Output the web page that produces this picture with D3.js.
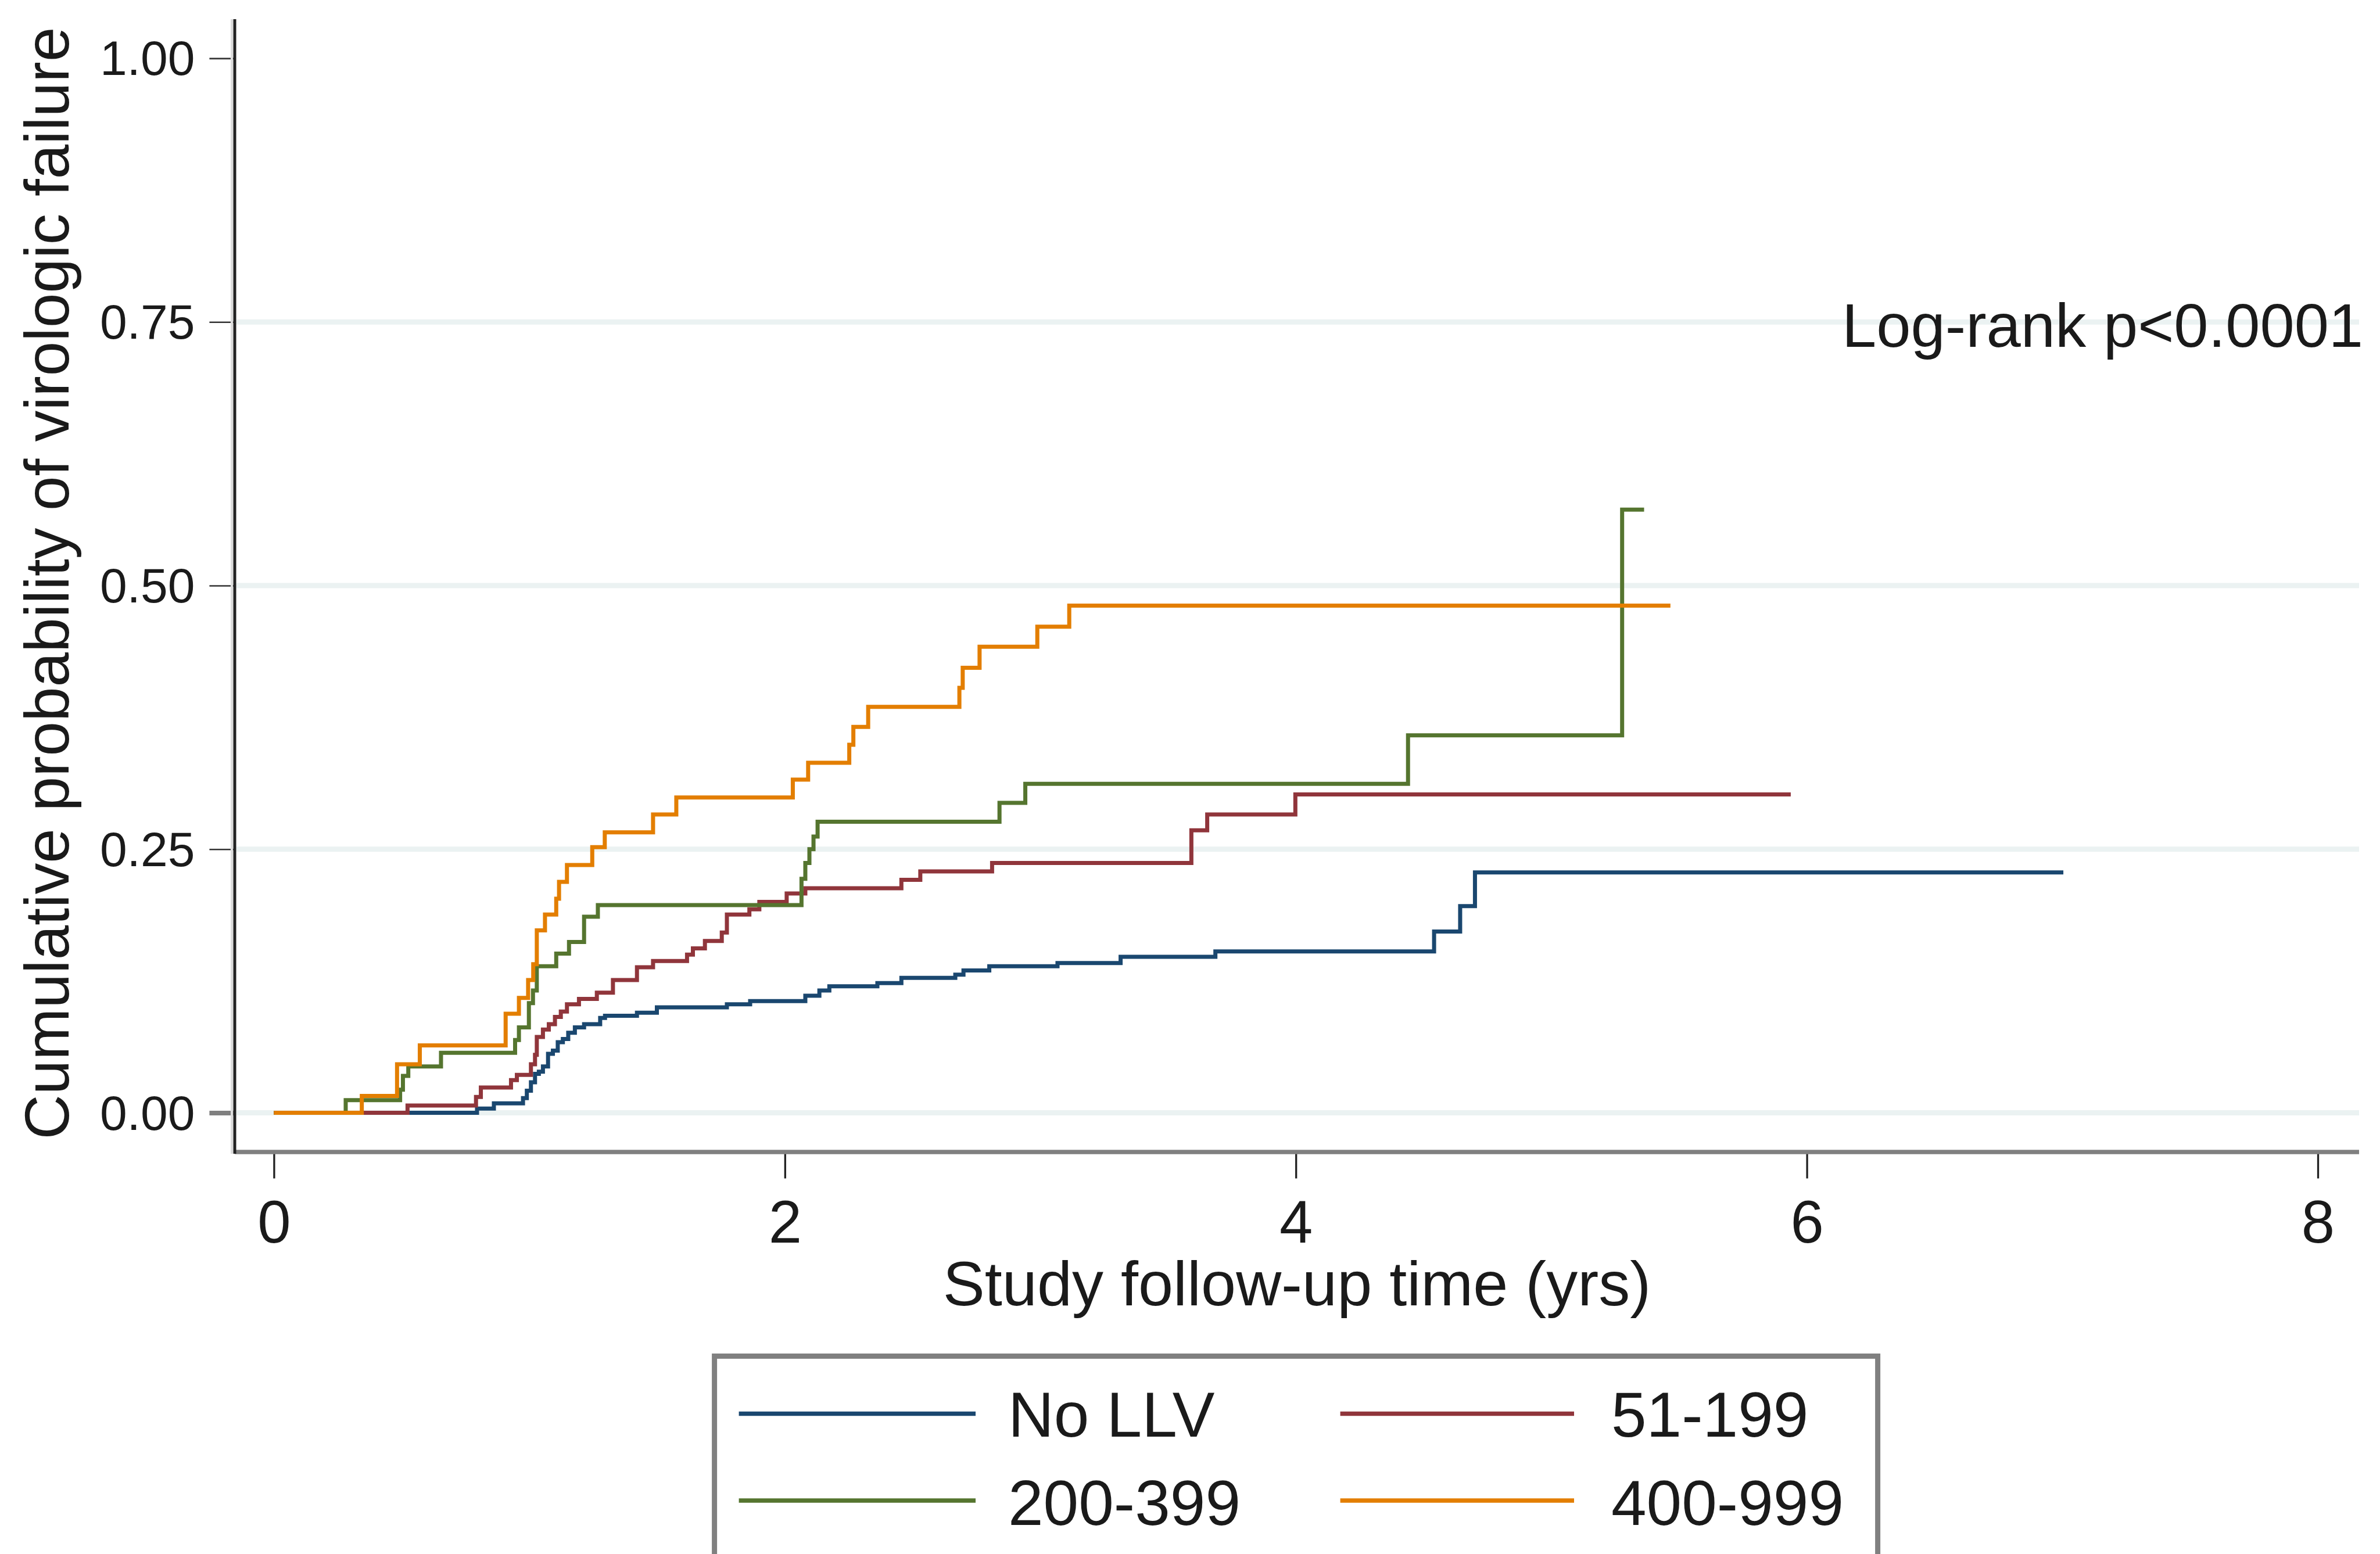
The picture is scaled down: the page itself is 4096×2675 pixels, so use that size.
<!DOCTYPE html>
<html>
<head>
<meta charset="utf-8">
<script src="https://cdn.jsdelivr.net/npm/d3@7"></script>
<style>
  html, body { margin: 0; padding: 0; background: #ffffff; }
  svg { display: block; }
  text { font-family: "Liberation Sans", Arial, sans-serif; fill: #1a1a1a; }
</style>
</head>
<body>
<svg id="chart" width="4096" height="2675"></svg>
<script>
// ---------------- DATA ----------------
const seriesNames = ["No LLV", "51-199", "200-399", "400-999"];
const seriesColors = ["#1a476f", "#90353b", "#55752f", "#e37e00"];

// Kaplan-Meier style cumulative failure steps: jump times (yrs) and new values
const noLLVTimes  = [0, 0.795, 0.861, 0.975, 0.990, 1.006, 1.022, 1.037, 1.053, 1.073, 1.092, 1.111, 1.131, 1.152, 1.178, 1.214, 1.277, 1.296, 1.421, 1.499, 1.773, 1.864, 2.080, 2.135, 2.174, 2.362, 2.456, 2.667, 2.699, 2.800, 3.067, 3.314, 3.685, 4.541, 4.643, 4.701];
const noLLVValues = [0, 0.004, 0.009, 0.014, 0.021, 0.029, 0.037, 0.039, 0.044, 0.056, 0.059, 0.067, 0.070, 0.076, 0.081, 0.084, 0.090, 0.092, 0.095, 0.100, 0.103, 0.106, 0.111, 0.116, 0.120, 0.123, 0.128, 0.131, 0.135, 0.139, 0.142, 0.148, 0.153, 0.172, 0.196, 0.228];
const noLLVEnd = 7.004;

const llv51Times  = [0, 0.523, 0.791, 0.810, 0.928, 0.951, 1.006, 1.022, 1.029, 1.053, 1.076, 1.100, 1.123, 1.147, 1.194, 1.264, 1.327, 1.421, 1.484, 1.617, 1.640, 1.687, 1.753, 1.773, 1.861, 1.900, 2.007, 2.080, 2.456, 2.530, 2.811, 3.591, 3.653, 3.998];
const llv51Values = [0, 0.007, 0.015, 0.024, 0.031, 0.036, 0.046, 0.055, 0.072, 0.079, 0.084, 0.091, 0.096, 0.103, 0.108, 0.114, 0.126, 0.138, 0.144, 0.150, 0.156, 0.163, 0.171, 0.188, 0.193, 0.200, 0.208, 0.213, 0.221, 0.229, 0.237, 0.268, 0.283, 0.302];
const llv51End = 5.937;

const llv200Times  = [0, 0.281, 0.494, 0.505, 0.526, 0.654, 0.944, 0.959, 0.998, 1.014, 1.029, 1.105, 1.155, 1.214, 1.268, 2.065, 2.080, 2.096, 2.112, 2.128, 2.840, 2.941, 4.439, 5.277];
const llv200Values = [0, 0.012, 0.022, 0.035, 0.044, 0.057, 0.069, 0.081, 0.104, 0.116, 0.139, 0.151, 0.162, 0.186, 0.197, 0.222, 0.237, 0.250, 0.262, 0.276, 0.294, 0.312, 0.358, 0.572];
const llv200End = 5.363;

const llv400Times  = [0, 0.344, 0.482, 0.571, 0.907, 0.959, 0.995, 1.015, 1.029, 1.061, 1.105, 1.116, 1.147, 1.246, 1.295, 1.484, 1.575, 2.031, 2.091, 2.252, 2.268, 2.326, 2.683, 2.696, 2.762, 2.988, 3.113];
const llv400Values = [0, 0.016, 0.046, 0.064, 0.094, 0.109, 0.126, 0.141, 0.173, 0.188, 0.203, 0.219, 0.235, 0.252, 0.266, 0.283, 0.299, 0.316, 0.332, 0.349, 0.366, 0.385, 0.403, 0.422, 0.442, 0.461, 0.481];
const llv400End = 5.466;

const seriesTimes  = [noLLVTimes, llv51Times, llv200Times, llv400Times];
const seriesValues = [noLLVValues, llv51Values, llv200Values, llv400Values];
const seriesEnds   = [noLLVEnd, llv51End, llv200End, llv400End];

const xTicks = [0, 2, 4, 6, 8];
const yTicks = [0, 0.25, 0.5, 0.75, 1.0];
const yGrid  = [0, 0.25, 0.5, 0.75];

const xTitle = "Study follow-up time (yrs)";
const yTitle = "Cumulative probability of virologic failure";
const annotation = "Log-rank p<0.0001";

// ---------------- LAYOUT ----------------
const svg = d3.select("#chart");
const x = d3.scaleLinear().domain([0, 8]).range([471.4, 3989]);
const y = d3.scaleLinear().domain([0, 1]).range([1915.6, 100.4]);

const plotLeft = 404, plotRight = 4060, plotTop = 33, axisY = 1983;

// gridlines
svg.append("g").selectAll("line").data(yGrid).join("line")
  .attr("x1", plotLeft + 3).attr("x2", plotRight)
  .attr("y1", d => y(d)).attr("y2", d => y(d))
  .attr("stroke", "#ebf2f2").attr("stroke-width", 9);

// y axis
const yAxis = d3.axisLeft(y).tickValues(yTicks).tickFormat(d3.format(".2f"))
  .tickSize(43).tickPadding(25).tickSizeOuter(0);
const gy = svg.append("g").attr("transform", `translate(${plotLeft - 0.6},0)`).call(yAxis);
gy.select(".domain").remove();
gy.selectAll(".tick line").attr("stroke", d => d === 0 ? "#808080" : "#333333")
  .attr("stroke-width", d => d === 0 ? 8 : 2.6);
gy.selectAll(".tick text").attr("font-size", 84).attr("dy", "0.34em")
  .attr("font-family", "Liberation Sans, Arial, sans-serif").attr("fill", "#1a1a1a");

// x axis
const xAxis = d3.axisBottom(x).tickValues(xTicks).tickFormat(d3.format("d"))
  .tickSize(45.5).tickSizeOuter(0);
const gx = svg.append("g").attr("transform", `translate(0,${axisY})`).call(xAxis);
gx.select(".domain").remove();
gx.selectAll(".tick line").attr("stroke", "#222222").attr("stroke-width", 3.3);
gx.selectAll(".tick text").attr("font-size", 103).attr("y", 156).attr("dy", "0")
  .attr("font-family", "Liberation Sans, Arial, sans-serif").attr("fill", "#1a1a1a");

// axis lines
svg.append("line").attr("x1", plotLeft).attr("x2", plotRight)
  .attr("y1", axisY).attr("y2", axisY)
  .attr("stroke", "#808080").attr("stroke-width", 7.5);
svg.append("line").attr("x1", plotLeft - 5).attr("x2", plotLeft - 5)
  .attr("y1", plotTop).attr("y2", axisY + 3)
  .attr("stroke", "#dddddd").attr("stroke-width", 4);
svg.append("line").attr("x1", plotLeft).attr("x2", plotLeft)
  .attr("y1", plotTop).attr("y2", axisY + 3)
  .attr("stroke", "#222222").attr("stroke-width", 5);

// curves
const line = d3.line().x(d => x(d[0])).y(d => y(d[1])).curve(d3.curveStepAfter);
seriesNames.forEach((name, i) => {
  const pts = seriesTimes[i].map((t, j) => [t, seriesValues[i][j]]);
  pts.push([seriesEnds[i], seriesValues[i][seriesValues[i].length - 1]]);
  svg.append("path").datum(pts)
    .attr("d", line)
    .attr("fill", "none")
    .attr("stroke", seriesColors[i])
    .attr("stroke-width", 7)
    .attr("stroke-linejoin", "miter")
    .attr("stroke-linecap", "butt");
});

// annotation
svg.append("text").attr("x", 3170).attr("y", 597)
  .attr("font-size", 106.5).text(annotation);

// axis titles
svg.append("text").attr("x", 2232).attr("y", 2247)
  .attr("text-anchor", "middle").attr("font-size", 108).text(xTitle);
svg.append("text").attr("transform", "translate(117.5,1004) rotate(-90)")
  .attr("text-anchor", "middle").attr("font-size", 107).text(yTitle);

// legend
svg.append("rect").attr("x", 1229.6).attr("y", 2334.4)
  .attr("width", 2002).attr("height", 600)
  .attr("fill", "none").attr("stroke", "#808080").attr("stroke-width", 9);

const legendKeyX = [[1271.6, 1679], [2306.6, 2709], [1271.6, 1679], [2306.6, 2709]];
const legendKeyY = [2433.6, 2433.6, 2583, 2583];
const legendTextX = [1735, 2773, 1735, 2773];
const legendTextY = [2473, 2473, 2624.5, 2624.5];
seriesNames.forEach((name, i) => {
  svg.append("line")
    .attr("x1", legendKeyX[i][0]).attr("x2", legendKeyX[i][1])
    .attr("y1", legendKeyY[i]).attr("y2", legendKeyY[i])
    .attr("stroke", seriesColors[i]).attr("stroke-width", 7.5);
  svg.append("text").attr("x", legendTextX[i]).attr("y", legendTextY[i])
    .attr("font-size", 109).text(name);
});
</script>
</body>
</html>
